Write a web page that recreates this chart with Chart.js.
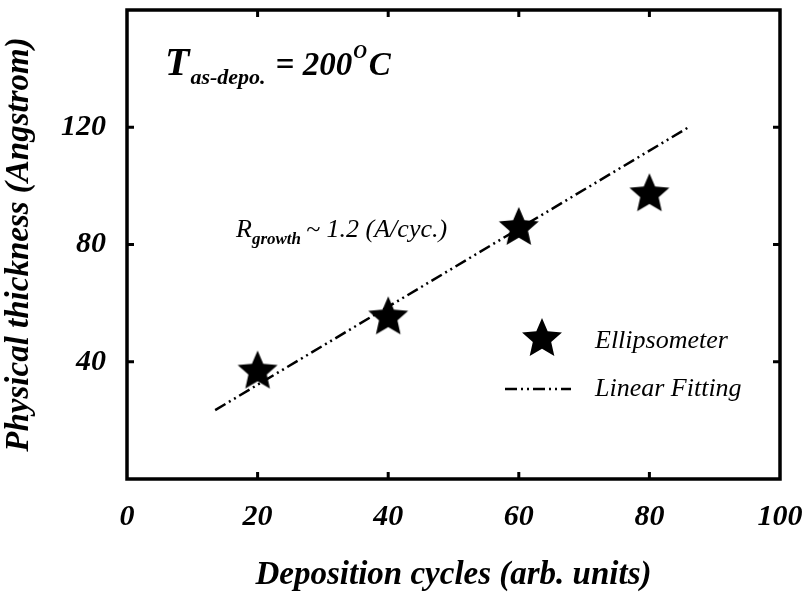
<!DOCTYPE html>
<html>
<head>
<meta charset="utf-8">
<script src="https://cdn.jsdelivr.net/npm/chart.js@4/dist/chart.umd.min.js"></script>
<style>
  html, body { margin: 0; padding: 0; background: #fff; }
</style>
</head>
<body>
<canvas id="chart" width="810" height="599"></canvas>
<script>
// data
const cycles = [20, 40, 60, 80];
const thickness = [37, 55.5, 86, 97.5];
const fitCycles = [13.5, 86];
const fitThickness = [23.5, 120];
const xTicks = [0, 20, 40, 60, 80, 100];
const yTicks = [40, 80, 120];

const serif = "'Liberation Serif', 'DejaVu Serif', serif";

// filled five point star used as the marker
function makeStar(size) {
  const c = document.createElement('canvas');
  c.width = size; c.height = size;
  const g = c.getContext('2d');
  const cx = size / 2, cy = size / 2 + 1, R = size / 2 - 1, r = R * 0.46;
  g.beginPath();
  for (let i = 0; i < 10; i++) {
    const rad = i % 2 === 0 ? R : r;
    const a = -Math.PI / 2 + i * Math.PI / 5;
    const px = cx + rad * Math.cos(a), py = cy + rad * Math.sin(a);
    if (i === 0) g.moveTo(px, py); else g.lineTo(px, py);
  }
  g.closePath();
  g.fillStyle = '#000';
  g.fill();
  return c;
}
const star = makeStar(44);

const fitDash = [12, 4, 2, 4, 2, 4];

// box, inward ticks, legend and notes
const decorations = {
  id: 'decorations',
  afterDraw(chart) {
    const { ctx, chartArea: a, scales } = chart;
    const x = scales.x, y = scales.y;
    ctx.save();
    ctx.strokeStyle = '#000';
    ctx.lineWidth = 3.5;
    ctx.strokeRect(a.left, a.top, a.right - a.left, a.bottom - a.top);

    ctx.lineWidth = 3;
    ctx.beginPath();
    xTicks.slice(1, -1).forEach(v => {
      const px = x.getPixelForValue(v);
      ctx.moveTo(px, a.bottom); ctx.lineTo(px, a.bottom - 7);
      ctx.moveTo(px, a.top); ctx.lineTo(px, a.top + 7);
    });
    yTicks.forEach(v => {
      const py = y.getPixelForValue(v);
      ctx.moveTo(a.left, py); ctx.lineTo(a.left + 7, py);
      ctx.moveTo(a.right, py); ctx.lineTo(a.right - 7, py);
    });
    ctx.stroke();

    ctx.fillStyle = '#000';
    ctx.textBaseline = 'alphabetic';

    // T as-depo. = 200 OC
    let tx = 165;
    ctx.font = 'italic bold 40px ' + serif;
    ctx.fillText('T', tx, 75);
    tx += ctx.measureText('T').width + 1;
    ctx.font = 'italic bold 22px ' + serif;
    ctx.fillText('as-depo.', tx, 84);
    tx += ctx.measureText('as-depo.').width + 10;
    ctx.font = 'italic bold 33px ' + serif;
    ctx.fillText('= 200', tx, 75);
    tx += ctx.measureText('= 200').width + 1;
    ctx.font = 'italic bold 19px ' + serif;
    ctx.fillText('O', tx, 58);
    tx += ctx.measureText('O').width + 2;
    ctx.font = 'italic bold 33px ' + serif;
    ctx.fillText('C', tx, 75);

    // growth rate note
    let rx = 236;
    ctx.font = 'italic 26px ' + serif;
    ctx.fillText('R', rx, 237);
    rx += ctx.measureText('R').width;
    ctx.font = 'italic bold 17px ' + serif;
    ctx.fillText('growth', rx, 244);
    rx += ctx.measureText('growth').width + 5;
    ctx.font = 'italic 26px ' + serif;
    ctx.fillText('~ 1.2 (A/cyc.)', rx, 237);

    // legend
    ctx.drawImage(star, 542 - 22, 338 - 22);
    ctx.lineWidth = 2.5;
    ctx.setLineDash(fitDash);
    ctx.beginPath();
    ctx.moveTo(505, 389); ctx.lineTo(571, 389);
    ctx.stroke();
    ctx.setLineDash([]);
    ctx.font = 'italic 26px ' + serif;
    ctx.textBaseline = 'middle';
    ctx.fillText('Ellipsometer', 595, 341);
    ctx.fillText('Linear Fitting', 595, 389);
    ctx.restore();
  }
};

const tickFont = { family: serif, size: 30, weight: 'bold', style: 'italic' };
const titleFont = { family: serif, size: 33, weight: 'bold', style: 'italic' };

new Chart(document.getElementById('chart'), {
  type: 'scatter',
  data: {
    datasets: [
      {
        label: 'Linear Fitting',
        data: fitCycles.map((c, i) => ({ x: c, y: fitThickness[i] })),
        showLine: true,
        borderColor: '#000',
        borderWidth: 2.5,
        borderDash: fitDash,
        pointRadius: 0,
        order: 2
      },
      {
        label: 'Ellipsometer',
        data: cycles.map((c, i) => ({ x: c, y: thickness[i] })),
        pointStyle: star,
        pointRadius: 1,
        pointBorderWidth: 0,
        backgroundColor: '#000',
        borderColor: '#000',
        order: 1
      }
    ]
  },
  options: {
    responsive: false,
    animation: false,
    layout: { padding: { left: 0, right: 30, top: 10, bottom: 0 } },
    plugins: {
      legend: { display: false },
      tooltip: { enabled: false }
    },
    scales: {
      x: {
        type: 'linear',
        min: 0,
        max: 100,
        afterBuildTicks: s => { s.ticks = xTicks.map(v => ({ value: v })); },
        afterFit: s => {
          s.height = 120;
          s.paddingLeft = 0; s.paddingRight = 0;
        },
        grid: { display: false },
        border: { display: false },
        ticks: { color: '#000', font: tickFont, padding: 12, maxRotation: 0 },
        title: {
          display: true,
          text: 'Deposition cycles (arb. units)',
          color: '#000',
          font: titleFont,
          padding: { top: 0, bottom: 4 }
        }
      },
      y: {
        type: 'linear',
        min: 0,
        max: 160,
        afterBuildTicks: s => { s.ticks = yTicks.map(v => ({ value: v })); },
        afterFit: s => {
          s.width = 127;
          s.paddingTop = 0; s.paddingBottom = 0;
        },
        grid: { display: false },
        border: { display: false },
        ticks: { color: '#000', font: tickFont, padding: 13 },
        title: {
          display: true,
          text: 'Physical thickness (Angstrom)',
          color: '#000',
          font: titleFont,
          padding: { top: 0, bottom: 0 }
        }
      }
    }
  },
  plugins: [decorations]
});
</script>
</body>
</html>
